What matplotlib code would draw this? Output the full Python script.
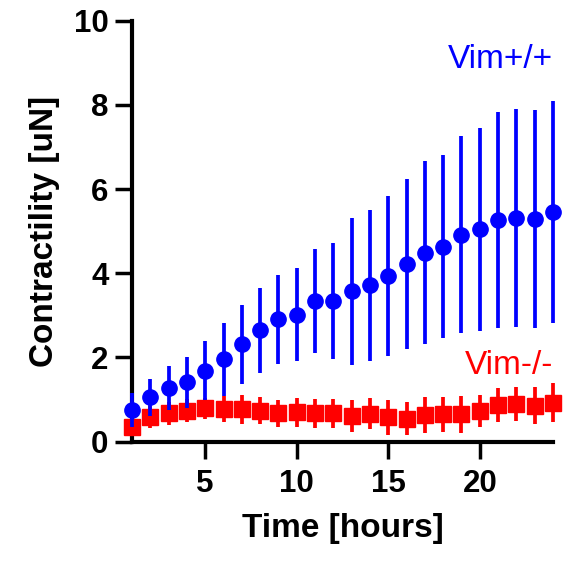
import matplotlib
matplotlib.use("Agg")
import matplotlib.pyplot as plt
import numpy as np

plt.rcParams['font.family'] = ['Liberation Sans', 'DejaVu Sans']

# time points (hours)
hours = np.arange(1, 25)

# Vim+/+ mean and SD
wt_mean = [0.75, 1.05, 1.28, 1.41, 1.69, 1.96, 2.31, 2.65, 2.91, 3.02, 3.34, 3.34,
           3.57, 3.71, 3.94, 4.21, 4.49, 4.63, 4.92, 5.05, 5.26, 5.31, 5.29, 5.46]
wt_sd = [0.41, 0.45, 0.52, 0.61, 0.69, 0.87, 0.94, 1.01, 1.06, 1.11, 1.24, 1.37,
         1.74, 1.79, 1.90, 2.02, 2.17, 2.17, 2.33, 2.41, 2.57, 2.59, 2.59, 2.64]

# Vim-/- mean and SD
ko_mean = [0.34, 0.58, 0.67, 0.74, 0.79, 0.77, 0.77, 0.74, 0.67, 0.70, 0.67, 0.67,
           0.61, 0.66, 0.58, 0.55, 0.63, 0.65, 0.65, 0.74, 0.87, 0.89, 0.85, 0.93]
ko_sd = [0.15, 0.26, 0.27, 0.27, 0.25, 0.31, 0.34, 0.33, 0.33, 0.34, 0.34, 0.34,
         0.37, 0.37, 0.42, 0.40, 0.43, 0.42, 0.44, 0.38, 0.40, 0.40, 0.44, 0.47]

blue = '#0000FF'
red = '#FF0000'

fig = plt.figure(figsize=(5.72, 5.63), dpi=100)
ax = fig.add_axes([0.2308, 0.2155, 0.736, 0.7477])

ko = ax.errorbar(hours, ko_mean, yerr=ko_sd, fmt='s', color=red, ms=11.5,
                 elinewidth=2.7, capsize=0, zorder=3)
wt = ax.errorbar(hours, wt_mean, yerr=wt_sd, fmt='o', color=blue, ms=11,
                 elinewidth=2.7, capsize=0, zorder=4)
for cont in (ko, wt):
    for art in cont.get_children():
        art.set_clip_on(False)

# group labels
ax.text(24.0, 9.08, 'Vim+/+', color=blue, fontsize=24, ha='right', va='center')
ax.text(24.0, 1.80, 'Vim-/-', color=red, fontsize=24, ha='right', va='center')

ax.set_xlim(1, 24)
ax.set_ylim(0, 10)
ax.set_xticks([5, 10, 15, 20])
ax.set_yticks([0, 2, 4, 6, 8, 10])

for s in ('top', 'right'):
    ax.spines[s].set_visible(False)
for s in ('left', 'bottom'):
    ax.spines[s].set_linewidth(3)
ax.tick_params(width=2.5, length=12, labelsize=22.5)
ax.tick_params(axis='y', pad=5)
ax.tick_params(axis='x', pad=8)
for lab in ax.get_xticklabels() + ax.get_yticklabels():
    lab.set_fontweight('bold')

ax.set_xlabel('Time [hours]', fontsize=24, fontweight='bold', labelpad=10)
ax.set_ylabel('Contractility [uN]', fontsize=24, fontweight='bold', labelpad=10)

fig.savefig('out.png', dpi=100)
